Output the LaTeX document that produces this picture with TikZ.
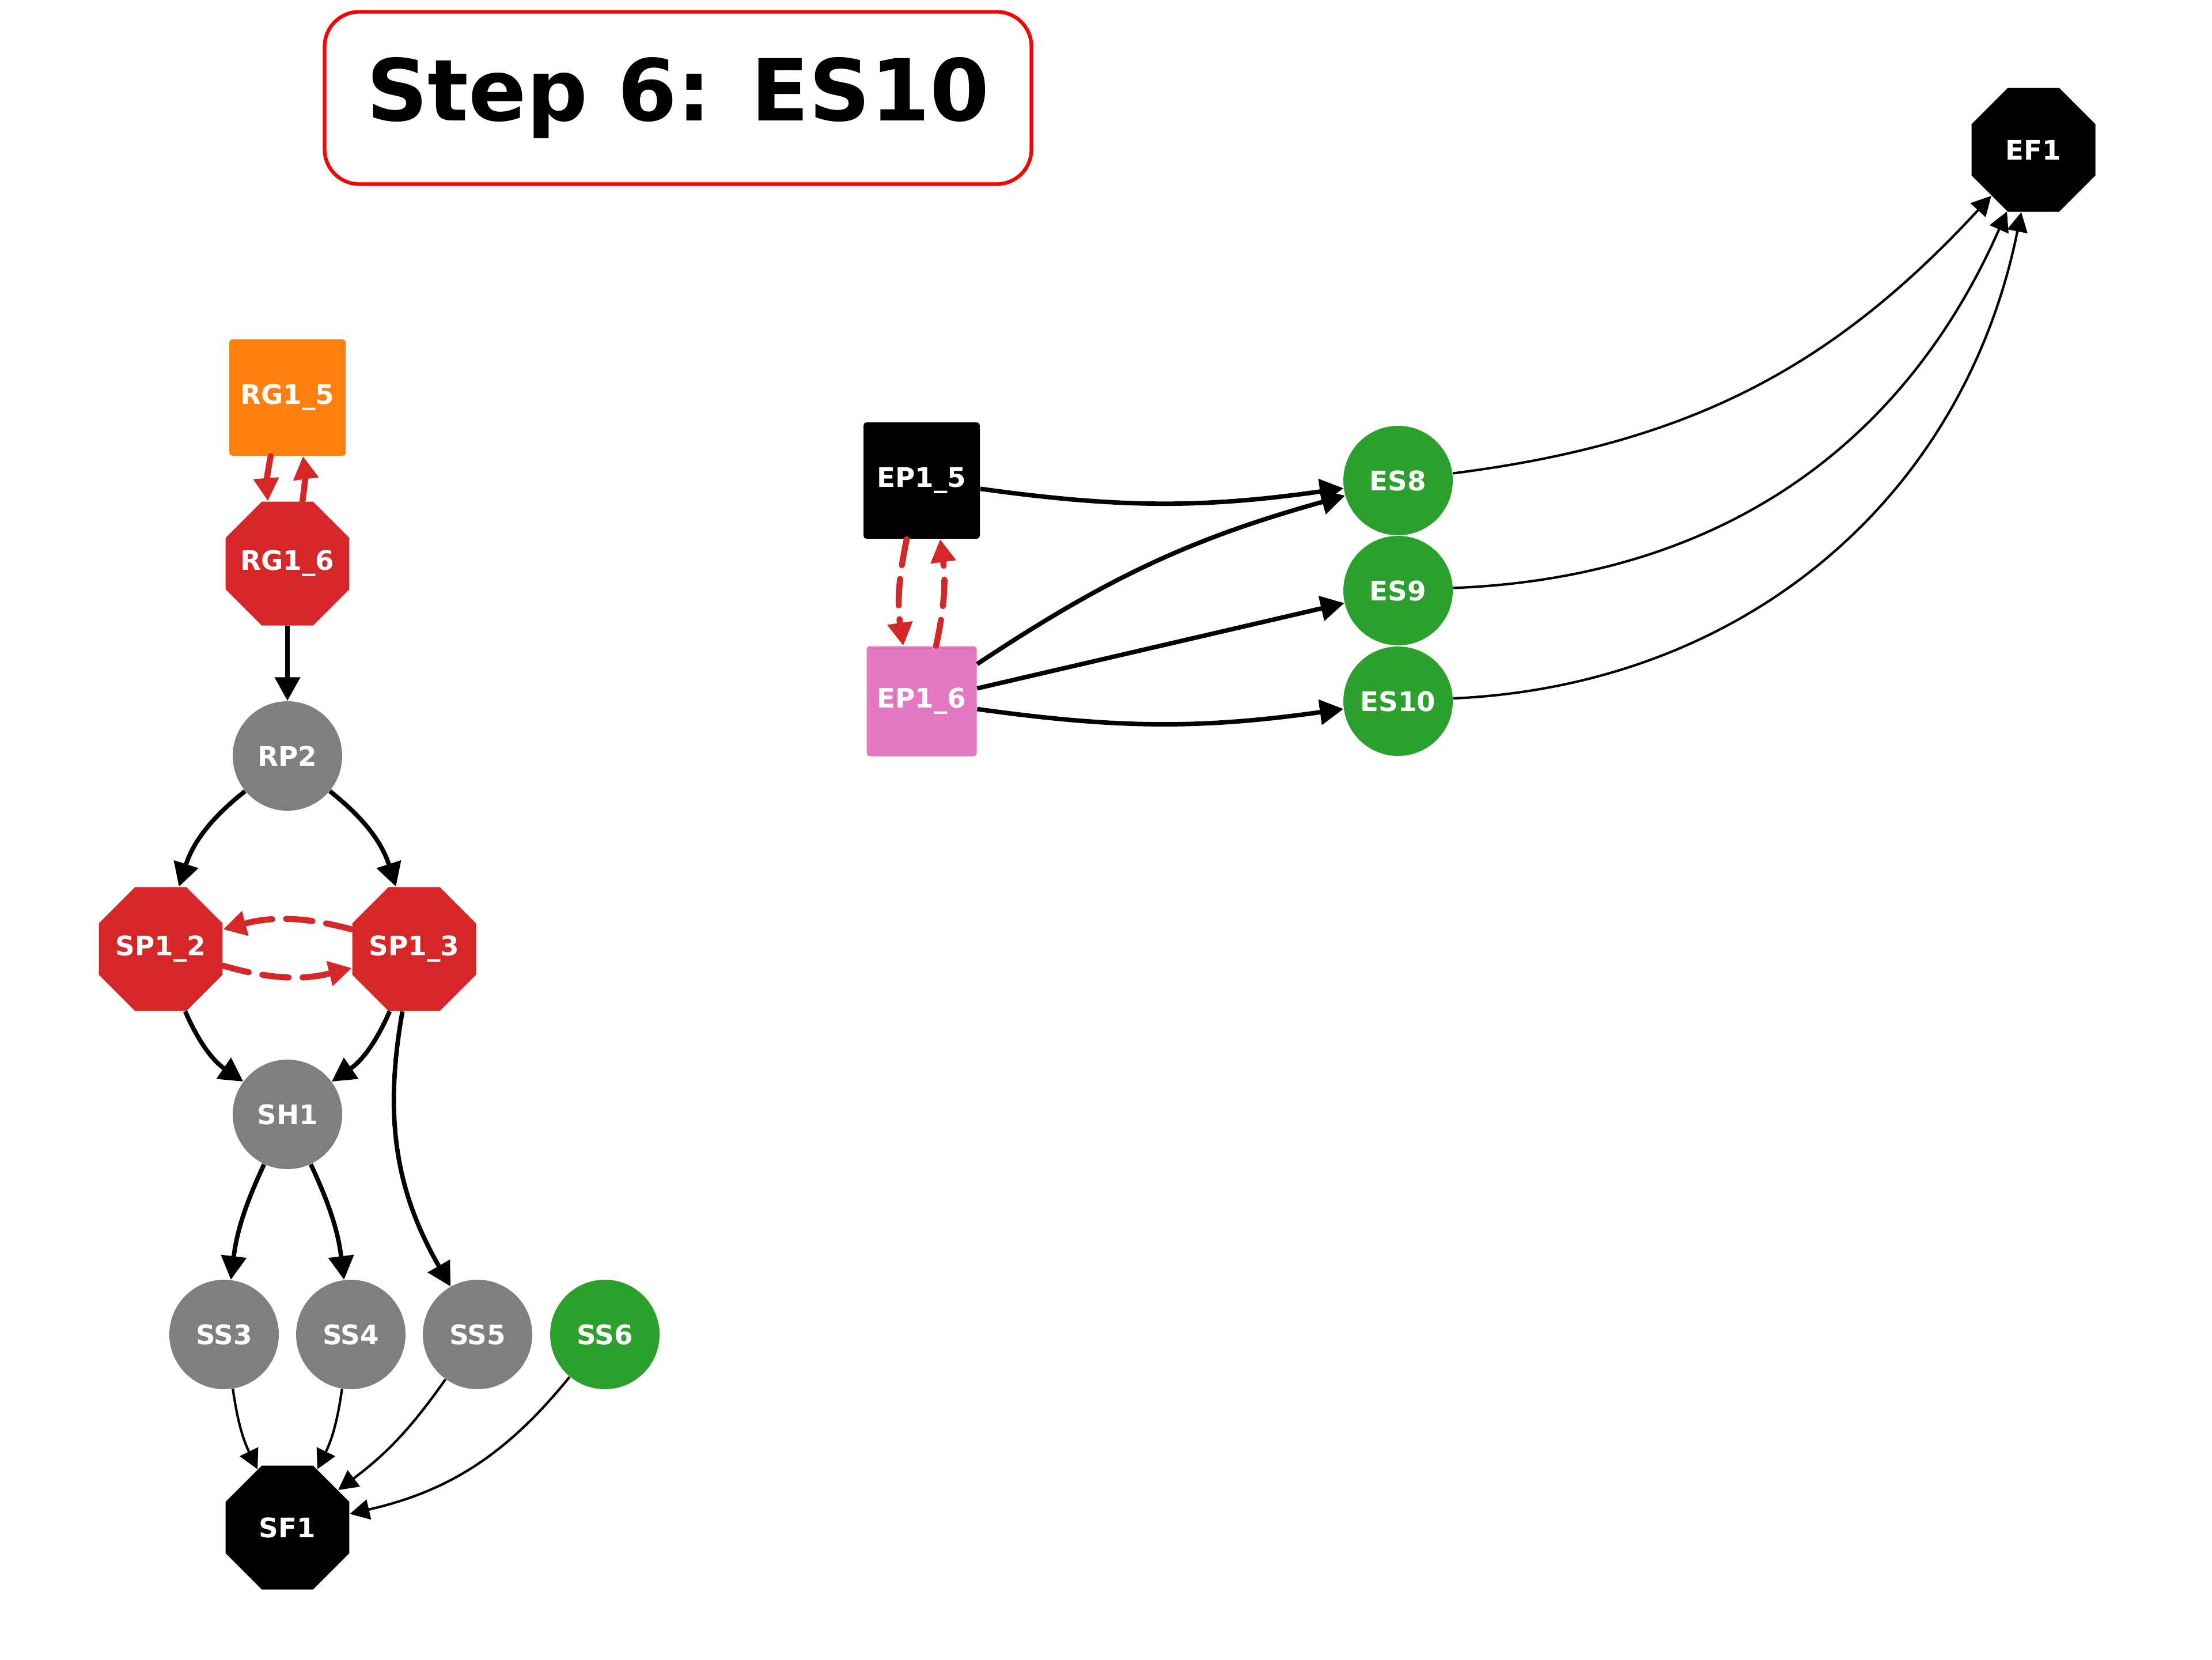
\documentclass[tikz,border=0pt]{standalone}
\usepackage{fontspec}
\setmainfont{DejaVu Sans}
\usetikzlibrary{shapes.geometric, arrows.meta}
\definecolor{cOrange}{HTML}{FF7F0E}
\definecolor{cRed}{HTML}{D62728}
\definecolor{cGray}{HTML}{7F7F7F}
\definecolor{cGreen}{HTML}{2CA02C}
\definecolor{cPink}{HTML}{E377C2}
\definecolor{cTitle}{HTML}{FF0000}
\newcommand{\zerowidth}[1]{\makebox[0pt][c]{#1}}
\tikzset{
  lbl/.style={font=\bfseries\fontsize{13.3}{16}\selectfont, text=white, inner sep=0pt},
  oct/.style={lbl, regular polygon, regular polygon sides=8, minimum size=2.327cm},
  circ/.style={lbl, circle, minimum size=1.9cm},
  sq/.style={lbl, rectangle, minimum size=2.02cm, rounded corners=1.5pt},
  thickarrow/.style={line width=2.2pt, -{Triangle[length=0.41cm,width=0.43cm]}},
  thinarrow/.style={line width=1.2pt, -{Triangle[length=0.34cm,width=0.35cm]}},
  redarrow/.style={draw=cRed, line width=3pt, line cap=round, dash pattern=on 0.46cm off 0.24cm,
     -{Triangle[length=0.40cm,width=0.42cm,fill=cRed]}},
  titlebox/.style={draw=cTitle, line width=1.8pt, rounded corners=0.6cm,
     minimum width=12.27cm, minimum height=2.99cm, inner sep=0pt,
     font=\bfseries\fontsize{42.2}{50}\selectfont}
}
\begin{document}
\begin{tikzpicture}
\path[use as bounding box, fill=white] (0,0) rectangle (38.4,-28.8);

\node[titlebox] (title) at (11.77,-1.70) {Step 6: ES10};

% left cluster
\node[sq, fill=cOrange] (RG15) at (4.99,-6.90) {RG1\_5};
\node[oct, fill=cRed] (RG16) at (4.99,-9.78) {\zerowidth{RG1\_6}};
\node[circ, fill=cGray] (RP2) at (4.99,-13.12) {RP2};
\node[oct, fill=cRed] (SP12) at (2.79,-16.47) {\zerowidth{SP1\_2}};
\node[oct, fill=cRed] (SP13) at (7.19,-16.47) {\zerowidth{SP1\_3}};
\node[circ, fill=cGray] (SH1) at (4.99,-19.34) {SH1};
\node[circ, fill=cGray] (SS3) at (3.89,-23.16) {SS3};
\node[circ, fill=cGray] (SS4) at (6.09,-23.16) {SS4};
\node[circ, fill=cGray] (SS5) at (8.29,-23.16) {SS5};
\node[circ, fill=cGreen] (SS6) at (10.50,-23.16) {SS6};
\node[oct, fill=black] (SF1) at (4.99,-26.51) {\zerowidth{SF1}};

% right cluster
\node[sq, fill=black] (EP15) at (16.00,-8.34) {EP1\_5};
\node[sq, fill=cPink, minimum size=1.91cm] (EP16) at (16.00,-12.17) {EP1\_6};
\node[circ, fill=cGreen] (ES8) at (24.27,-8.34) {ES8};
\node[circ, fill=cGreen] (ES9) at (24.27,-10.25) {ES9};
\node[circ, fill=cGreen] (ES10) at (24.27,-12.17) {ES10};
\node[oct, fill=black] (EF1) at (35.30,-2.60) {\zerowidth{EF1}};

% red dashed pairs
\draw[redarrow] ([xshift=-0.29cm]RG15.south) to[bend right=8] ([xshift=-0.34cm]RG16.north);
\draw[redarrow] ([xshift=0.26cm]RG16.north) to[bend right=8] ([xshift=0.27cm]RG15.south);
\draw[redarrow] ([yshift=0.34cm]SP13.west) to[bend right=15] ([yshift=0.34cm]SP12.east);
\draw[redarrow] ([yshift=-0.29cm]SP12.east) to[bend right=15] ([yshift=-0.33cm]SP13.west);
\draw[redarrow] ([xshift=-0.26cm]EP15.south) to[bend right=10] ([xshift=-0.32cm]EP16.north);
\draw[redarrow] ([xshift=0.25cm]EP16.north) to[bend right=10] ([xshift=0.32cm]EP15.south);

% left black edges
\draw[thickarrow] (RG16) -- (RP2);
\draw[thickarrow] (RP2) to[bend right=17] (SP12);
\draw[thickarrow] (RP2) to[bend left=17] (SP13);
\draw[thickarrow] (SP12) to[bend right=16] (SH1);
\draw[thickarrow] (SP13) to[bend left=16] (SH1);
\draw[thickarrow] (SP13) to[bend right=20] (SS5);
\draw[thickarrow] (SH1) to[bend right=9] (SS3);
\draw[thickarrow] (SH1) to[bend left=9] (SS4);
\draw[thinarrow] (SS3) to[bend right=9] (SF1);
\draw[thinarrow] (SS4) to[bend left=9] (SF1);
\draw[thinarrow] (SS5) to[bend left=9] (SF1);
\draw[thinarrow] (SS6) to[bend left=19] (SF1);

% right black edges
\draw[thickarrow] (EP15) to[bend right=8] (ES8);
\draw[thickarrow] (EP16) to[bend left=9] (ES8);
\draw[thickarrow] (EP16) -- (ES9);
\draw[thickarrow] (EP16) to[bend right=8] (ES10);
\draw[thinarrow] (ES8) to[bend right=20] (EF1);
\draw[thinarrow] (ES9) to[bend right=32] (EF1);
\draw[thinarrow] (ES10) to[bend right=38] (EF1);
\end{tikzpicture}
\end{document}
